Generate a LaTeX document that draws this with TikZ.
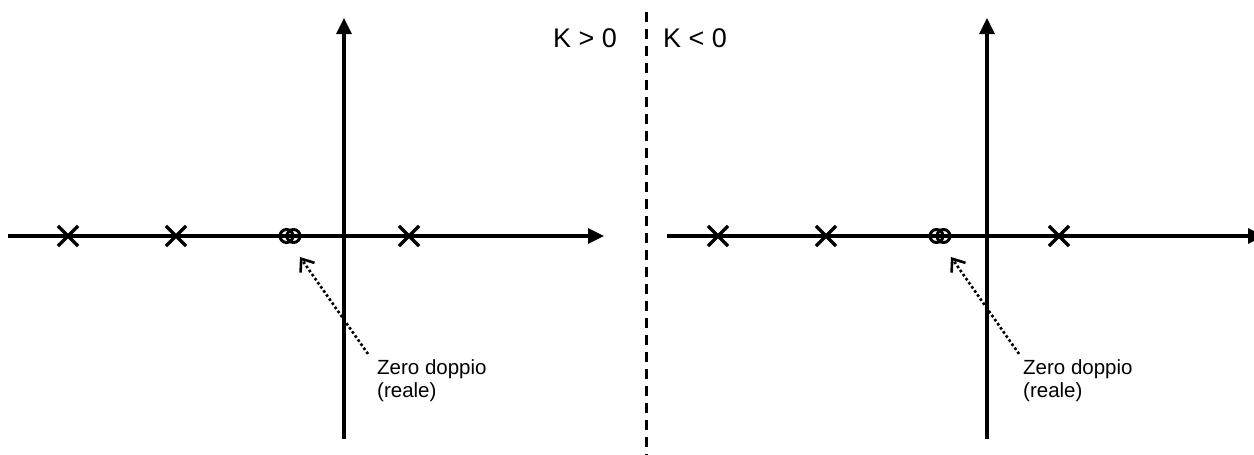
\documentclass[tikz,border=0pt]{standalone}
\usepackage{fontspec}
\setmainfont{Liberation Sans}
\usetikzlibrary{arrows.meta,shapes.misc}
\begin{document}
\begin{tikzpicture}[x=1pt,y=-1pt,
    asse/.style={line width=3.2pt,-{Triangle[length=16pt,width=15pt]}},
    polo/.style={draw,cross out,line width=3.2pt,minimum size=17pt,inner sep=0pt},
    zero/.style={draw,circle,line width=3pt,minimum size=13pt,inner sep=0pt},
    nota/.style={anchor=base west,align=left,inner sep=0pt,font=\fontsize{20.5}{23}\selectfont},
    segno/.style={anchor=base west,inner sep=0pt,font=\fontsize{27}{32}\selectfont},
    freccia/.style={dash pattern=on 2.6pt off 2.4pt,line width=2.6pt,-{Straight Barb[length=11pt,width=17pt]}}]
      \useasboundingbox (0,0) rectangle (1254,455);
      % pannello sinistro, K > 0
      \coordinate (oS) at (8,236);
      \coordinate (eS) at (604,236);
      \coordinate (bS) at (344,439);
      \coordinate (tS) at (344,18);
      \draw[asse] (oS) -- (eS);
      \draw[asse] (bS) -- (tS);
      \node[polo] (p1S) at (68,236) {};
      \node[polo] (p2S) at (176,236) {};
      \node[polo] (p3S) at (409,236) {};
      \node[zero] (z1S) at (286.5,236) {};
      \node[zero] (z2S) at (293.5,236) {};
      \node[nota] (notaS) at (377,397) {Zero doppio\\(reale)};
      \coordinate (puntaS) at (300,257);
      \draw[freccia] ([xshift=-9pt,yshift=5pt]notaS.north west) -- (puntaS);
      \node[segno] (kS) at (553,47) {K > 0};
      % separatore
      \coordinate (sepA) at (646,12);
      \coordinate (sepB) at (646,456);
      \draw[line width=3pt,dash pattern=on 10pt off 7pt] (sepA) -- (sepB);
      % pannello destro, K < 0
      \coordinate (oD) at (667,236);
      \coordinate (eD) at (1264,236);
      \coordinate (bD) at (987,439);
      \coordinate (tD) at (987,18);
      \draw[asse] (oD) -- (eD);
      \draw[asse] (bD) -- (tD);
      \node[polo] (p1D) at (718,236) {};
      \node[polo] (p2D) at (826,236) {};
      \node[polo] (p3D) at (1059,236) {};
      \node[zero] (z1D) at (936.5,236) {};
      \node[zero] (z2D) at (943.5,236) {};
      \node[nota] (notaD) at (1023,397) {Zero doppio\\(reale)};
      \coordinate (puntaD) at (951,257);
      \draw[freccia] ([xshift=-4pt,yshift=5pt]notaD.north west) -- (puntaD);
      \node[segno] (kD) at (663,47) {K < 0};
\end{tikzpicture}
\end{document}
